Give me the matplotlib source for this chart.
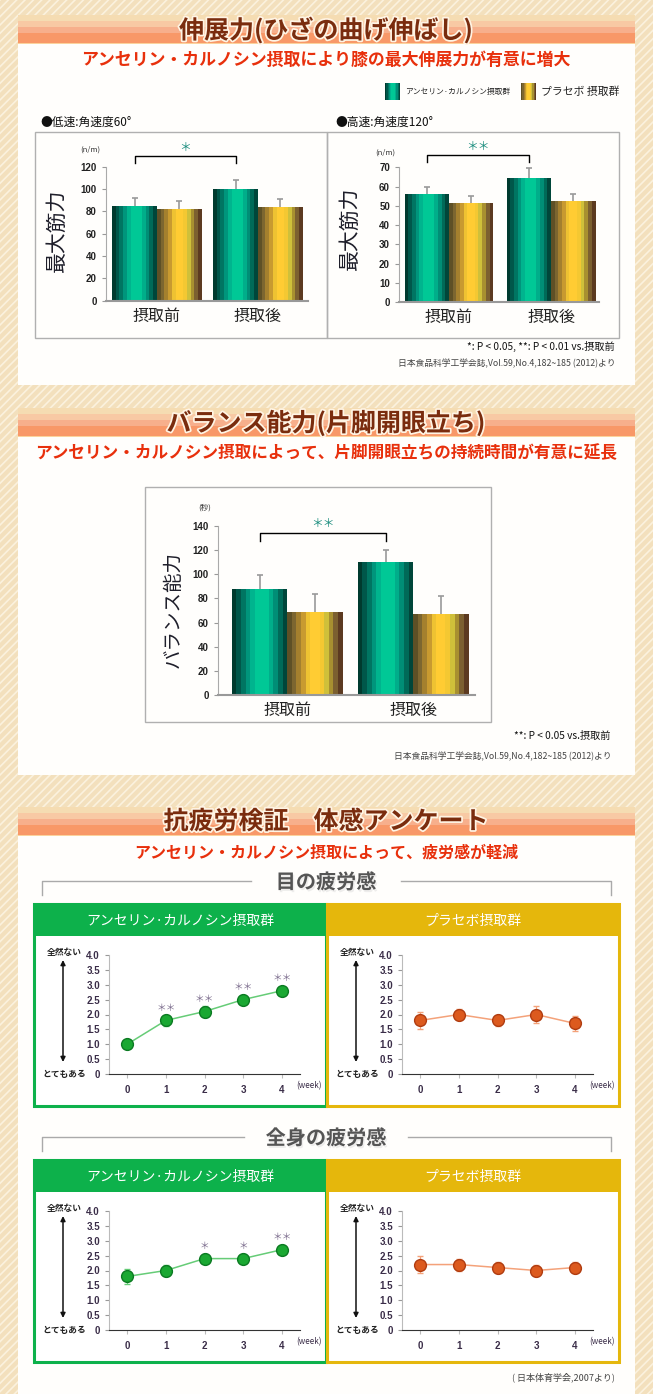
import numpy as np
import matplotlib
matplotlib.use('Agg')
import matplotlib.pyplot as plt
from matplotlib.patches import Rectangle
import matplotlib.patheffects as pe

plt.rcParams['font.family'] = ['Noto Sans CJK JP', 'DejaVu Sans']
plt.rcParams['hatch.linewidth'] = 1.2

W, H = 653, 1394

# ---- data ----
groups = ['摂取前', '摂取後']
slow_ans, slow_ans_err = [85, 100], [7, 8]
slow_pla, slow_pla_err = [82, 84], [7, 7]
fast_ans, fast_ans_err = [56, 64.5], [4, 5]
fast_pla, fast_pla_err = [51.5, 52.5], [3.7, 3.7]
bal_ans, bal_ans_err = [88, 110], [11, 10]
bal_pla, bal_pla_err = [68.5, 67], [15, 15]

weeks = [0, 1, 2, 3, 4]
scale_ticks = [0, 0.5, 1.0, 1.5, 2.0, 2.5, 3.0, 3.5, 4.0]
eye_ans, eye_ans_err = [1.0, 1.8, 2.1, 2.5, 2.8], [0.1, 0.2, 0.2, 0.15, 0.1]
eye_ans_sig = ['', '＊＊', '＊＊', '＊＊', '＊＊']
eye_pla, eye_pla_err = [1.8, 2.0, 1.8, 2.0, 1.7], [0.3, 0.2, 0.2, 0.3, 0.25]
body_ans, body_ans_err = [1.8, 2.0, 2.4, 2.4, 2.7], [0.25, 0.2, 0.15, 0.15, 0.15]
body_ans_sig = ['', '', '＊', '＊', '＊＊']
body_pla, body_pla_err = [2.2, 2.2, 2.1, 2.0, 2.1], [0.3, 0.2, 0.2, 0.2, 0.2]

teal = ['#003a2e', '#00574a', '#007562', '#00957c', '#00b48e', '#00c896',
        '#00c896', '#00c896', '#00ae8a', '#008e76', '#006a58', '#00463a']
gold = ['#5e5026', '#7c6630', '#a4802e', '#c89a30', '#eec232', '#ffcc33',
        '#ffcc33', '#f4c832', '#cfc03a', '#a89030', '#7c6030', '#5c3a20']
GREEN, YELLOW = '#0db14b', '#e5b70c'


def frac(x, y, w, h):
    return [x / W, 1 - (y + h) / H, w / W, h / H]


fig = plt.figure(figsize=(W / 100, H / 100), dpi=100)
bg = fig.add_axes([0, 0, 1, 1])
bg.set_xlim(0, W)
bg.set_ylim(H, 0)
bg.axis('off')
bg.add_patch(Rectangle((0, 0), W, H, facecolor='#f3e0bd', edgecolor='#fbf2de',
                       hatch='////', lw=0))

title_fx = [pe.Stroke(linewidth=2.5, foreground='#fff4e4'), pe.Normal()]


def section(top, bottom, title, subtitle, sub_size):
    bg.add_patch(Rectangle((18, top), 617, bottom - top, facecolor='#fffefc', lw=0))
    bands = [(0, 6, '#f5dcb2'), (6, 12, '#f8c9a4'), (12, 18, '#f7af8c'),
             (18, 28, '#f89868'), (28, 29, '#fbd39c')]
    for a, b, c in bands:
        bg.add_patch(Rectangle((18, top + a), 617, b - a, facecolor=c, lw=0))
    bg.text(326, top + 15, title, ha='center', va='center', fontsize=18,
            fontweight='bold', color='#7a2c0e', path_effects=title_fx)
    bg.text(326, top + 45, subtitle, ha='center', va='center', fontsize=sub_size,
            fontweight='bold', color='#e8300c')


section(15, 385, '伸展力(ひざの曲げ伸ばし)',
        'アンセリン・カルノシン摂取により膝の最大伸展力が有意に増大', 12.2)
section(408, 775, 'バランス能力(片脚開眼立ち)',
        'アンセリン・カルノシン摂取によって、片脚開眼立ちの持続時間が有意に延長', 12)
section(807, 1394, '抗疲労検証　体感アンケート',
        'アンセリン・カルノシン摂取によって、疲労感が軽減', 11.5)


def swatch(x, y, cols):
    sw = 15 / len(cols)
    for i, c in enumerate(cols):
        bg.add_patch(Rectangle((x + i * sw, y), sw + 0.2, 17, facecolor=c, lw=0))


swatch(385, 83, teal)
bg.text(405, 91.5, 'アンセリン·カルノシン摂取群', fontsize=5.6, va='center', color='#222')
swatch(521, 83, gold)
bg.text(541, 91.5, 'プラセボ 摂取群', fontsize=7.8, va='center', color='#222')


def bar_chart(rect, ans, ans_err, pla, pla_err, ymax, ystep, xlim, width,
              bracket, stars):
    ax = fig.add_axes(frac(*rect))
    ax.set_facecolor('none')
    x = np.arange(len(groups))
    for vals, err, cols, off in ((ans, ans_err, teal, -width / 2),
                                 (pla, pla_err, gold, width / 2)):
        pos = x + off
        sw = width / len(cols)
        for i, c in enumerate(cols):
            ax.bar(pos - width / 2 + sw * (i + 0.5), vals, width=sw * 1.05,
                   color=c, linewidth=0)
        top = np.array(vals) + np.array(err)
        ax.vlines(pos, vals, top, color='#9a9a9a', lw=1.2)
        ax.plot(pos, top, '_', color='#9a9a9a', ms=4, mew=1.2)
    b0, b1 = bracket
    xa, xb = x[0] - width / 2, x[1] - width / 2
    ax.plot([xa, xa, xb, xb], [b0, b1, b1, b0], color='k', lw=1, clip_on=False)
    ax.text((xa + xb) / 2, b1 + ymax * 0.015, stars, ha='center', va='bottom',
            fontsize=8.5, color='#1f8f80', clip_on=False)
    ax.set_xlim(*xlim)
    ax.set_ylim(0, ymax)
    ax.set_yticks(np.arange(0, ymax + 1, ystep))
    ax.set_xticks(x)
    ax.set_xticklabels(groups, fontsize=11.5, color='#222')
    ax.tick_params(axis='x', length=0, pad=5)
    ax.tick_params(axis='y', labelsize=7, colors='#222', length=3, color='#999')
    for t in ax.get_yticklabels():
        t.set_family(['Liberation Sans', 'DejaVu Sans'])
        t.set_fontweight('bold')
    for s in ('top', 'right'):
        ax.spines[s].set_visible(False)
    ax.spines['left'].set_color('#aaaaaa')
    ax.spines['bottom'].set_color('#999999')
    ax.spines['bottom'].set_linewidth(1.5)
    return ax


# upper bar charts
bg.text(40, 122, '●低速:角速度60°', fontsize=8.5, va='center', color='#111')
bg.text(335, 122, '●高速:角速度120°', fontsize=8.5, va='center', color='#111')
bg.add_patch(Rectangle((35, 132), 292, 206, fill=False, edgecolor='#b0b0b0', lw=1))
bg.add_patch(Rectangle((327, 132), 292, 206, fill=False, edgecolor='#b0b0b0', lw=1))

bar_chart((106, 166.7, 202, 134), slow_ans, slow_ans_err, slow_pla, slow_pla_err,
          120, 20, (-0.505, 1.495), 0.445, (123.6, 129.5), '＊')
bar_chart((399, 167.3, 200, 135), fast_ans, fast_ans_err, fast_pla, fast_pla_err,
          70, 10, (-0.49, 1.47), 0.435, (72.7, 76.4), '＊＊')
bg.text(57, 230, '最大筋力', rotation=90, ha='center', va='center', fontsize=15, color='#1e1e2a')
bg.text(350, 228, '最大筋力', rotation=90, ha='center', va='center', fontsize=15, color='#1e1e2a')
bg.text(90, 150, '(n/m)', ha='center', va='center', fontsize=5.5, color='#333')
bg.text(385, 153, '(n/m)', ha='center', va='center', fontsize=5.5, color='#333')
bg.text(615, 346, '*: P < 0.05, **: P < 0.01 vs.摂取前', ha='right', va='center',
        fontsize=7.3, color='#111')
bg.text(615, 363, '日本食品科学工学会誌,Vol.59,No.4,182~185 (2012)より', ha='right',
        va='center', fontsize=6.3, color='#444')

# balance chart
bg.add_patch(Rectangle((145, 487), 346, 235, fill=False, edgecolor='#b0b0b0', lw=1))
bar_chart((218, 526, 257, 169), bal_ans, bal_ans_err, bal_pla, bal_pla_err,
          140, 20, (-0.55, 1.49), 0.44, (127.6, 134.2), '＊＊')
bg.text(173, 609, 'バランス能力', rotation=90, ha='center', va='center', fontsize=14,
        color='#1e1e2a')
bg.text(205, 508, '(秒)', ha='center', va='center', fontsize=5.5, color='#333')
bg.text(610, 736, '**: P < 0.05 vs.摂取前', ha='right', va='center', fontsize=7.3,
        color='#111')
bg.text(612, 756, '日本食品科学工学会誌,Vol.59,No.4,182~185 (2012)より', ha='right',
        va='center', fontsize=6.3, color='#444')


def divider(y, text, gap):
    bg.plot([42, 42, 326 - gap], [y + 14, y, y], color='#aaaaaa', lw=1)
    bg.plot([326 + gap, 611, 611], [y, y, y + 14], color='#aaaaaa', lw=1)
    bg.text(326, y + 1, text, ha='center', va='center', fontsize=14.5,
            fontweight='bold', color='#555555',
            path_effects=[pe.withSimplePatchShadow(offset=(1, -1.5),
                                                   shadow_rgbFace='#c8c8c8')])


def line_panel(x0, y0, color, header, vals, err, sig, face, edge, line):
    bg.add_patch(Rectangle((x0, y0), 292, 202, facecolor='white', edgecolor=color, lw=2.2))
    bg.add_patch(Rectangle((x0, y0), 292, 32, facecolor=color, lw=0))
    bg.text(x0 + 146, y0 + 17, header, ha='center', va='center', fontsize=10,
            color='white')
    ax = fig.add_axes(frac(x0 + 75, y0 + 51, 191, 119))
    ax.set_facecolor('none')
    ax.errorbar(weeks, vals, yerr=err, fmt='-o', color=line, lw=1.1, ms=8.5,
                mfc=face, mec=edge, mew=1, ecolor=line, elinewidth=0.9, capsize=2)
    for w, v, s in zip(weeks, vals, sig):
        if s:
            ax.text(w, v + 0.26, s, ha='center', va='bottom', fontsize=7,
                    color='#7d6e8e')
    ax.set_xlim(-0.47, 4.47)
    ax.set_ylim(0, 4)
    ax.set_xticks(weeks)
    ax.set_yticks(scale_ticks)
    ax.set_yticklabels(['0' if v == 0 else f'{v:.1f}' for v in scale_ticks])
    ax.tick_params(axis='y', labelsize=7, colors='#3a2d48', length=3, color='#999')
    ax.tick_params(axis='x', labelsize=7, colors='#3a2d48', length=3, color='#bbb', pad=5)
    for t in ax.get_xticklabels() + ax.get_yticklabels():
        t.set_family(['Liberation Sans', 'DejaVu Sans'])
        t.set_fontweight('bold')
    for s in ('top', 'right'):
        ax.spines[s].set_visible(False)
    ax.spines['left'].set_color('#bbbbbb')
    ax.spines['bottom'].set_color('#333333')
    ax.text(0.98, -0.095, '(week)', transform=ax.transAxes, ha='left', va='center',
            fontsize=5.8, color='#3a2d48')
    bg.text(x0 + 30, y0 + 49, '全然ない', ha='center', va='center', fontsize=6.3,
            fontweight='bold', color='#222')
    bg.text(x0 + 30, y0 + 170, 'とてもある', ha='center', va='center', fontsize=6.3,
            fontweight='bold', color='#222')
    bg.annotate('', xy=(x0 + 29, y0 + 56), xytext=(x0 + 29, y0 + 158),
                arrowprops=dict(arrowstyle='<|-|>', color='#111', lw=1.1,
                                mutation_scale=7, shrinkA=0, shrinkB=0))


divider(881, '目の疲労感', 75)
line_panel(34, 904, GREEN, 'アンセリン·カルノシン摂取群', eye_ans, eye_ans_err,
           eye_ans_sig, '#1aa832', '#0b7a22', '#66cc77')
line_panel(327, 904, YELLOW, 'プラセボ摂取群', eye_pla, eye_pla_err,
           [''] * 5, '#dc5a1e', '#b03c10', '#f4a27a')

divider(1137, '全身の疲労感', 82)
line_panel(34, 1160, GREEN, 'アンセリン·カルノシン摂取群', body_ans, body_ans_err,
           body_ans_sig, '#1aa832', '#0b7a22', '#66cc77')
line_panel(327, 1160, YELLOW, 'プラセボ摂取群', body_pla, body_pla_err,
           [''] * 5, '#dc5a1e', '#b03c10', '#f4a27a')

bg.text(615, 1377, '( 日本体育学会,2007より)', ha='right', va='center', fontsize=6.5,
        color='#444')

fig.savefig('out.png', dpi=100)
